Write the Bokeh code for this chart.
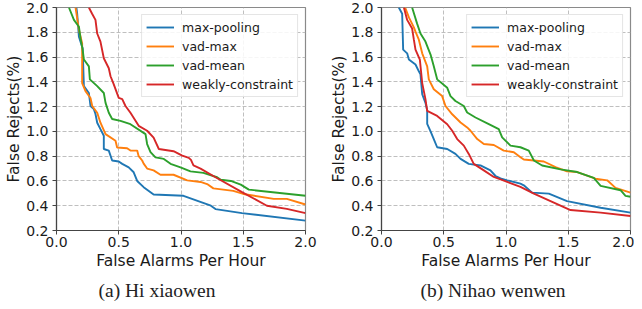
from bokeh.plotting import figure
from bokeh.layouts import row
from bokeh.models import Legend, LegendItem, Title, Range1d, FixedTicker, PrintfTickFormatter
from bokeh.embed import file_html
from bokeh.resources import INLINE

series_names = ["max-pooling", "vad-max", "vad-mean", "weakly-constraint"]
colors = ["#1f77b4", "#ff7f0e", "#2ca02c", "#d62728"]
x_ticks = [0.0, 0.5, 1.0, 1.5, 2.0]
y_ticks = [0.2, 0.4, 0.6, 0.8, 1.0, 1.2, 1.4, 1.6, 1.8, 2.0]
captions = ["(a) Hi xiaowen", "(b) Nihao wenwen"]

# (a) Hi xiaowen
a_maxpool_x = [0.16, 0.166, 0.174, 0.18, 0.21, 0.22, 0.26, 0.273, 0.30, 0.313, 0.327, 0.353, 0.38, 0.38, 0.42, 0.447, 0.50, 0.528, 0.58, 0.62, 0.648, 0.70, 0.78, 1.02, 1.24, 1.277, 1.49, 2.0]
a_maxpool_y = [2.0, 1.95, 1.845, 1.765, 1.67, 1.365, 1.31, 1.205, 1.18, 1.14, 1.07, 1.018, 0.965, 0.858, 0.845, 0.765, 0.757, 0.738, 0.71, 0.67, 0.60, 0.55, 0.49, 0.48, 0.40, 0.373, 0.34, 0.28]
a_vadmax_x = [0.153, 0.18, 0.206, 0.206, 0.233, 0.273, 0.287, 0.327, 0.353, 0.394, 0.474, 0.487, 0.567, 0.594, 0.648, 0.66, 0.688, 0.70, 0.728, 0.78, 0.835, 0.94, 1.05, 1.157, 1.21, 1.26, 1.42, 1.50, 1.745, 1.85, 2.0]
a_vadmax_y = [2.0, 1.82, 1.71, 1.39, 1.325, 1.27, 1.205, 1.15, 1.07, 0.978, 0.925, 0.87, 0.864, 0.845, 0.845, 0.80, 0.765, 0.74, 0.70, 0.685, 0.65, 0.65, 0.605, 0.592, 0.575, 0.54, 0.52, 0.495, 0.455, 0.455, 0.41]
a_vadmean_x = [0.10, 0.14, 0.18, 0.193, 0.21, 0.22, 0.26, 0.268, 0.327, 0.38, 0.394, 0.42, 0.447, 0.514, 0.594, 0.715, 0.728, 0.755, 0.795, 0.862, 0.916, 0.996, 1.076, 1.18, 1.29, 1.32, 1.40, 1.48, 1.545, 2.0]
a_vadmean_y = [2.0, 1.90, 1.845, 1.75, 1.66, 1.58, 1.525, 1.42, 1.365, 1.31, 1.23, 1.15, 1.10, 1.085, 1.058, 0.978, 0.898, 0.832, 0.79, 0.778, 0.738, 0.71, 0.677, 0.665, 0.63, 0.61, 0.60, 0.57, 0.53, 0.48]
a_weakly_x = [0.26, 0.286, 0.313, 0.327, 0.353, 0.38, 0.42, 0.434, 0.46, 0.50, 0.528, 0.554, 0.594, 0.66, 0.728, 0.78, 0.822, 0.94, 1.01, 1.063, 1.08, 1.10, 1.157, 1.277, 1.49, 1.69, 1.85, 2.0]
a_weakly_y = [2.0, 1.95, 1.90, 1.79, 1.725, 1.59, 1.51, 1.445, 1.38, 1.27, 1.26, 1.205, 1.15, 1.045, 1.005, 0.95, 0.858, 0.84, 0.805, 0.786, 0.77, 0.725, 0.70, 0.63, 0.51, 0.40, 0.375, 0.34]

# (b) Nihao wenwen
b_maxpool_x = [0.139, 0.166, 0.174, 0.206, 0.22, 0.273, 0.30, 0.313, 0.327, 0.353, 0.367, 0.367, 0.394, 0.42, 0.447, 0.528, 0.594, 0.635, 0.701, 0.795, 0.875, 0.916, 0.956, 1.01, 1.116, 1.143, 1.21, 1.344, 1.49, 1.76, 2.0]
b_maxpool_y = [2.0, 1.95, 1.66, 1.63, 1.58, 1.54, 1.485, 1.46, 1.30, 1.23, 1.17, 1.06, 1.00, 0.938, 0.872, 0.858, 0.818, 0.778, 0.738, 0.725, 0.685, 0.64, 0.62, 0.605, 0.578, 0.565, 0.506, 0.498, 0.437, 0.384, 0.344]
b_vadmax_x = [0.19, 0.22, 0.26, 0.273, 0.30, 0.327, 0.367, 0.38, 0.42, 0.487, 0.514, 0.568, 0.635, 0.688, 0.715, 0.769, 0.822, 0.902, 0.982, 1.063, 1.116, 1.143, 1.304, 1.398, 1.49, 1.572, 1.719, 1.813, 1.88, 2.0]
b_vadmax_y = [2.0, 1.92, 1.84, 1.805, 1.74, 1.63, 1.525, 1.42, 1.34, 1.285, 1.205, 1.138, 1.072, 1.032, 1.005, 0.938, 0.898, 0.89, 0.845, 0.832, 0.792, 0.773, 0.757, 0.712, 0.677, 0.672, 0.618, 0.605, 0.544, 0.506]
b_vadmean_x = [0.246, 0.286, 0.313, 0.353, 0.394, 0.42, 0.447, 0.528, 0.554, 0.594, 0.661, 0.688, 0.755, 0.862, 0.942, 0.969, 1.036, 1.116, 1.183, 1.224, 1.29, 1.438, 1.572, 1.705, 1.76, 1.92, 1.96, 2.0]
b_vadmean_y = [2.0, 1.87, 1.79, 1.725, 1.62, 1.525, 1.42, 1.352, 1.285, 1.245, 1.205, 1.152, 1.112, 1.058, 1.018, 0.952, 0.885, 0.872, 0.845, 0.765, 0.725, 0.693, 0.672, 0.624, 0.56, 0.525, 0.48, 0.472]
b_weakly_x = [0.18, 0.206, 0.246, 0.26, 0.273, 0.308, 0.327, 0.353, 0.367, 0.447, 0.528, 0.568, 0.608, 0.661, 0.701, 0.741, 0.822, 0.902, 1.01, 1.116, 1.224, 1.518, 1.76, 2.0]
b_weakly_y = [2.0, 1.90, 1.83, 1.74, 1.66, 1.58, 1.39, 1.26, 1.165, 1.125, 1.058, 1.005, 0.938, 0.885, 0.818, 0.738, 0.685, 0.632, 0.592, 0.552, 0.498, 0.365, 0.344, 0.317]

panel_a = [(a_maxpool_x, a_maxpool_y), (a_vadmax_x, a_vadmax_y), (a_vadmean_x, a_vadmean_y), (a_weakly_x, a_weakly_y)]
panel_b = [(b_maxpool_x, b_maxpool_y), (b_vadmax_x, b_vadmax_y), (b_vadmean_x, b_vadmean_y), (b_weakly_x, b_weakly_y)]

FONT = "DejaVu Sans"
FRAME_W = 249
FRAME_H = 225
TOP = 7
FIG_H = 305


def make_panel(series, caption, border_left, border_right, caption_offset):
    p = figure(width=border_left + FRAME_W + border_right, height=FIG_H,
               x_range=Range1d(0, 2), y_range=Range1d(0.2, 2.0),
               output_backend="svg", toolbar_location=None,
               min_border_left=border_left, min_border_right=border_right,
               min_border_top=TOP, min_border_bottom=FIG_H - TOP - FRAME_H)
    p.background_fill_color = "white"
    p.border_fill_color = "white"
    p.outline_line_color = "#8a8a8a"
    p.outline_line_width = 1.2

    items = []
    for (xs, ys), name, col in zip(series, series_names, colors):
        r = p.line(xs, ys, line_color=col, line_width=1.9)
        items.append(LegendItem(label=name, renderers=[r]))

    p.xaxis.ticker = FixedTicker(ticks=x_ticks)
    p.yaxis.ticker = FixedTicker(ticks=y_ticks)
    p.xaxis.formatter = PrintfTickFormatter(format="%.1f")
    p.yaxis.formatter = PrintfTickFormatter(format="%.1f")
    for ax in (p.xaxis, p.yaxis):
        ax.axis_line_color = "#444444"
        ax.axis_line_width = 1.2
        ax.major_tick_line_color = "#444444"
        ax.major_tick_out = 4
        ax.major_tick_in = 0
        ax.minor_tick_line_color = None
        ax.major_label_text_font = FONT
        ax.major_label_text_font_size = "14px"
        ax.major_label_text_color = "#1a1a1a"
        ax.axis_label_text_font = FONT
        ax.axis_label_text_font_size = "15.5px"
        ax.axis_label_text_font_style = "normal"
        ax.axis_label_text_color = "#1a1a1a"
    p.xaxis.axis_label_standoff = 2
    p.yaxis.axis_label_standoff = 0
    p.xaxis.major_label_standoff = 2
    p.yaxis.major_label_standoff = 4
    p.xaxis.axis_label = "False Alarms Per Hour"
    p.yaxis.axis_label = "False Rejects(%)"

    for g in (p.xgrid, p.ygrid):
        g.grid_line_color = "#b8b8b8"
        g.grid_line_dash = "4 2"
        g.grid_line_width = 0.9

    legend = Legend(items=items, location="top_right", margin=7, padding=4,
                    spacing=3, glyph_width=28, glyph_height=16, label_height=16,
                    label_standoff=8, label_text_font=FONT, label_text_font_size="12.5px",
                    label_text_color="#1a1a1a",
                    border_line_color="#cccccc", border_line_width=1,
                    background_fill_color="white", background_fill_alpha=0.85)
    p.add_layout(legend)

    cap = Title(text=caption, align="left", offset=caption_offset, standoff=10,
                text_font="Liberation Serif", text_font_size="19.5px",
                text_font_style="normal", text_color="#222222")
    p.add_layout(cap, "below")
    return p


pa = make_panel(panel_a, captions[0], 56, 15, 42)
pb = make_panel(panel_b, captions[1], 61, 4, 39)
layout = row(pa, pb)

open("out.html", "w").write(file_html(layout, INLINE))
